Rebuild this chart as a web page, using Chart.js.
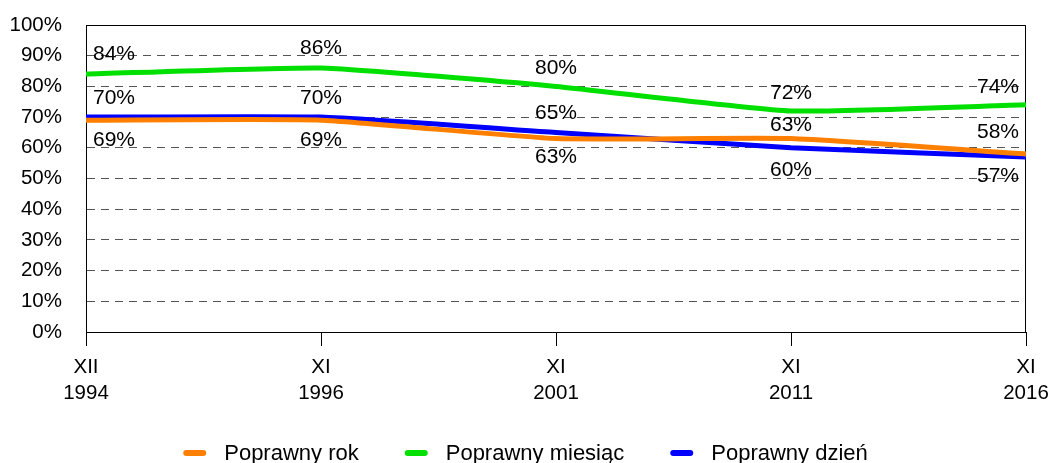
<!DOCTYPE html>
<html>
<head>
<meta charset="utf-8">
<script src="https://cdn.jsdelivr.net/npm/chart.js@4"></script>
<style>
  html, body { margin: 0; padding: 0; background: #fff; }
  #wrap { width: 1051px; height: 463px; }
</style>
</head>
<body>
<div id="wrap"><canvas id="chartDates"></canvas></div>
<script>
const categories = [['XII', '1994'], ['XI', '1996'], ['XI', '2001'], ['XI', '2011'], ['XI', '2016']];
const seriesNames = ['Poprawny rok', 'Poprawny miesiąc', 'Poprawny dzień'];
const correctYear = [69, 69, 63, 63, 58];
const correctMonth = [84, 86, 80, 72, 74];
const correctDay = [70, 70, 65, 60, 57];
const yTicks = [0, 10, 20, 30, 40, 50, 60, 70, 80, 90, 100];

const colors = ['#ff8000', '#00e000', '#0000ff'];
// vertical offset of each value label from its point (px)
const labelOffsets = [
  [20, 20, 19, -13, -22],
  [-20, -20, -18, -18, -18],
  [-19, -19, -19, 22, 19]
];
const FONT = '"Liberation Sans", Arial, sans-serif';

const valueLabels = {
  id: 'valueLabels',
  afterDatasetsDraw(chart) {
    const ctx = chart.ctx;
    const area = chart.chartArea;
    ctx.save();
    ctx.font = '21px ' + FONT;
    ctx.fillStyle = '#000';
    ctx.textAlign = 'center';
    ctx.textBaseline = 'middle';
    chart.data.datasets.forEach((ds, di) => {
      chart.getDatasetMeta(di).data.forEach((pt, i) => {
        const txt = ds.data[i] + '%';
        const w = ctx.measureText(txt).width;
        let x = Math.max(pt.x, area.left + 7 + w / 2);
        x = Math.min(x, area.right - 7 - w / 2);
        ctx.fillText(txt, x, pt.y + labelOffsets[di][i]);
      });
    });
    ctx.restore();
  }
};

const frame = {
  id: 'frame',
  beforeDatasetsDraw(chart) {
    const ctx = chart.ctx;
    const a = chart.chartArea;
    ctx.save();
    ctx.strokeStyle = '#000';
    ctx.lineWidth = 1;
    ctx.beginPath();
    ctx.moveTo(Math.round(a.left) + 0.5, Math.round(a.top) + 0.5);
    ctx.lineTo(Math.round(a.right) - 0.5, Math.round(a.top) + 0.5);
    ctx.lineTo(Math.round(a.right) - 0.5, Math.round(a.bottom));
    ctx.stroke();
    ctx.restore();
  }
};

const bottomLegend = {
  id: 'bottomLegend',
  afterDraw(chart) {
    const ctx = chart.ctx;
    const markW = 23, gap = 18, spacing = 46, y = 453;
    ctx.save();
    ctx.font = '22px ' + FONT;
    const widths = seriesNames.map(n => ctx.measureText(n).width);
    let total = 0;
    widths.forEach((w, i) => { total += markW + gap + w + (i < widths.length - 1 ? spacing : 0); });
    let x = (chart.width - total) / 2;
    ctx.textBaseline = 'middle';
    ctx.textAlign = 'left';
    seriesNames.forEach((n, i) => {
      ctx.strokeStyle = colors[i];
      ctx.lineWidth = 6;
      ctx.lineCap = 'round';
      ctx.beginPath();
      ctx.moveTo(x + 3, y);
      ctx.lineTo(x + markW - 3, y);
      ctx.stroke();
      ctx.fillStyle = '#000';
      ctx.fillText(n, x + markW + gap, y + 1);
      x += markW + gap + widths[i] + spacing;
    });
    ctx.restore();
  }
};

const seriesData = [correctYear, correctMonth, correctDay];

new Chart(document.getElementById('chartDates'), {
  type: 'line',
  data: {
    labels: categories,
    datasets: seriesNames.map((name, i) => ({
      label: name,
      data: seriesData[i],
      borderColor: colors[i],
      backgroundColor: colors[i],
      borderWidth: 5,
      pointRadius: 0,
      tension: 0.15,
      fill: false
    }))
  },
  options: {
    responsive: true,
    maintainAspectRatio: false,
    animation: false,
    events: [],
    layout: { padding: { top: 25, right: 25, left: 0, bottom: 50 } },
    plugins: {
      legend: { display: false },
      tooltip: { enabled: false }
    },
    scales: {
      x: {
        offset: false,
        afterFit: s => { s.height = 81; s.paddingLeft = 0; s.paddingRight = 0; },
        grid: { drawOnChartArea: false, drawTicks: true, tickLength: 14, color: '#000' },
        border: { display: true, color: '#000', width: 1 },
        ticks: {
          color: '#000',
          maxRotation: 0,
          autoSkip: false,
          padding: 9,
          font: { family: FONT, size: 20.5, lineHeight: 1.25 }
        }
      },
      y: {
        min: 0,
        max: 100,
        afterFit: s => { s.width = 86; s.paddingTop = 0; s.paddingBottom = 0; },
        afterBuildTicks: s => { s.ticks = yTicks.map(v => ({ value: v })); },
        grid: { color: '#555', lineWidth: 1, drawTicks: false },
        border: { display: true, color: '#000', width: 1, dash: [8, 6] },
        ticks: {
          color: '#000',
          padding: 24,
          font: { family: FONT, size: 20.5 },
          callback: v => v + '%'
        }
      }
    }
  },
  plugins: [frame, valueLabels, bottomLegend]
});
</script>
</body>
</html>
